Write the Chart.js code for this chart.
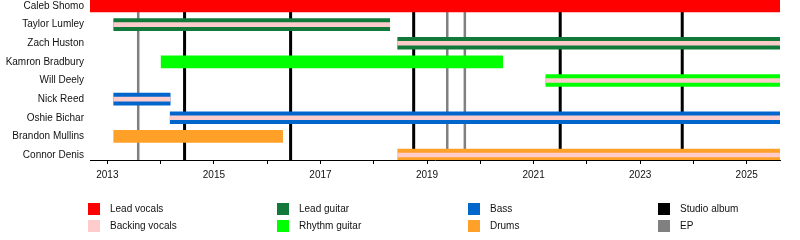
<!DOCTYPE html>
<html>
<head>
<meta charset="utf-8">
<script src="https://cdn.jsdelivr.net/npm/chart.js@4"></script>
<style>
  html, body { margin: 0; padding: 0; background: #fff; }
  #wrap { position: relative; width: 800px; height: 240px; overflow: hidden; font-family: "Liberation Sans", Arial, sans-serif; }
  #c { position: absolute; left: 0; top: 0; }
  .lg { position: absolute; font-size: 10px; color: #111; line-height: 12px; white-space: nowrap; }
  .lg i { position: absolute; left: 0; top: 0; width: 12px; height: 12px; }
  .lg span { position: absolute; left: 22px; top: 0; }
</style>
</head>
<body>
<div id="wrap">
  <canvas id="c" width="800" height="240"></canvas>
</div>
<script>
// ---- data ----
const members = ['Caleb Shomo','Taylor Lumley','Zach Huston','Kamron Bradbury','Will Deely','Nick Reed','Oshie Bichar','Brandon Mullins','Connor Denis'];
const startYears = [2012.675, 2013.12, 2018.45, 2014.01, 2021.23, 2013.12, 2014.18, 2013.12, 2018.45];
const endYears   = [2025.625, 2018.30, 2025.625, 2020.42, 2025.625, 2014.18, 2025.625, 2016.29, 2025.625];
const mainRoles  = ['Lead vocals','Lead guitar','Lead guitar','Rhythm guitar','Rhythm guitar','Bass','Bass','Drums','Drums'];
const backingVocals = [false, true, true, false, true, true, true, false, true];
const studioAlbums = [2014.45, 2016.44, 2018.75, 2021.50, 2023.79];
const eps = [2013.58, 2019.38, 2019.71];
const yearTicks = [2013,2014,2015,2016,2017,2018,2019,2020,2021,2022,2023,2024,2025];
const xMin = 2012.675, xMax = 2025.625;

const roleColors = {
  'Lead vocals': '#ff0000',
  'Backing vocals': '#ffcccc',
  'Lead guitar': '#117a3a',
  'Rhythm guitar': '#00ff00',
  'Bass': '#0066cc',
  'Drums': '#ffa028',
  'Studio album': '#000000',
  'EP': '#808080'
};
const legendCols = [
  ['Lead vocals','Backing vocals'],
  ['Lead guitar','Rhythm guitar'],
  ['Bass','Drums'],
  ['Studio album','EP']
];

// ---- datasets ----
const datasets = [];
['Lead vocals','Lead guitar','Rhythm guitar','Bass','Drums'].forEach(role => {
  const data = [];
  members.forEach((m, i) => { if (mainRoles[i] === role) data.push({ y: i, x: [startYears[i], endYears[i]] }); });
  datasets.push({ type: 'bar', label: role, data, backgroundColor: roleColors[role], barThickness: 12, grouped: false, borderWidth: 0, borderSkipped: false, order: 1 });
});
const bvData = [];
members.forEach((m, i) => { if (backingVocals[i]) bvData.push({ y: i, x: [startYears[i], endYears[i]] }); });
datasets.push({ type: 'bar', label: 'Backing vocals', data: bvData, backgroundColor: roleColors['Backing vocals'], barThickness: 4, grouped: false, borderWidth: 0, borderSkipped: false, order: 0 });

const yMin = -0.322, yMax = 8.268;
function vline(x, color, w) {
  return { type: 'line', label: '', data: [{ x: x, y: yMin }, { x: x, y: yMax }], borderColor: color, borderWidth: w, pointRadius: 0, fill: false, order: 5, indexAxis: 'x' };
}
studioAlbums.forEach(x => datasets.push(vline(x, roleColors['Studio album'], 3)));
eps.forEach(x => datasets.push(vline(x, roleColors['EP'], 2.5)));

const font = { family: '"Liberation Sans", Arial, sans-serif', size: 10 };

new Chart(document.getElementById('c'), {
  type: 'bar',
  data: { datasets },
  options: {
    indexAxis: 'y',
    responsive: false,
    animation: false,
    layout: { padding: { left: 0, right: 20, top: 0, bottom: 0 } },
    plugins: { legend: { display: false }, tooltip: { enabled: false } },
    scales: {
      x: {
        type: 'linear', min: xMin, max: xMax, offset: false,
        afterBuildTicks: s => { s.ticks = yearTicks.map(v => ({ value: v })); },
        afterFit: s => { s.height = 80; s.paddingLeft = 0; s.paddingRight = 0; s.paddingTop = 0; s.paddingBottom = 0; },
        grid: { drawOnChartArea: false, drawTicks: true, tickLength: 4, tickColor: '#000', tickWidth: 1, offset: false },
        border: { display: true, color: '#000', width: 1 },
        ticks: { autoSkip: false, maxRotation: 0, padding: 5, color: '#111', font,
          callback: v => (v % 2 === 1 ? String(v) : '') }
      },
      y: {
        type: 'linear', reverse: true, min: yMin, max: yMax, offset: false,
        afterBuildTicks: s => { s.ticks = members.map((m, i) => ({ value: i })); },
        afterFit: s => { s.width = 90; s.paddingTop = 0; s.paddingBottom = 0; s.paddingLeft = 0; s.paddingRight = 0; },
        grid: { display: false, drawTicks: false, offset: false },
        border: { display: false },
        ticks: { autoSkip: false, padding: 6, color: '#111', font, callback: v => members[v] ?? '' }
      }
    }
  }
});

// ---- legend (HTML text) ----
const wrap = document.getElementById('wrap');
const colX = [88, 277, 468, 658];
const rowY = [203, 220];
legendCols.forEach((col, ci) => col.forEach((name, ri) => {
  const d = document.createElement('div');
  d.className = 'lg';
  d.style.left = colX[ci] + 'px';
  d.style.top = rowY[ri] + 'px';
  d.innerHTML = '<i style="background:' + roleColors[name] + '"></i><span>' + name + '</span>';
  wrap.appendChild(d);
}));
</script>
</body>
</html>
